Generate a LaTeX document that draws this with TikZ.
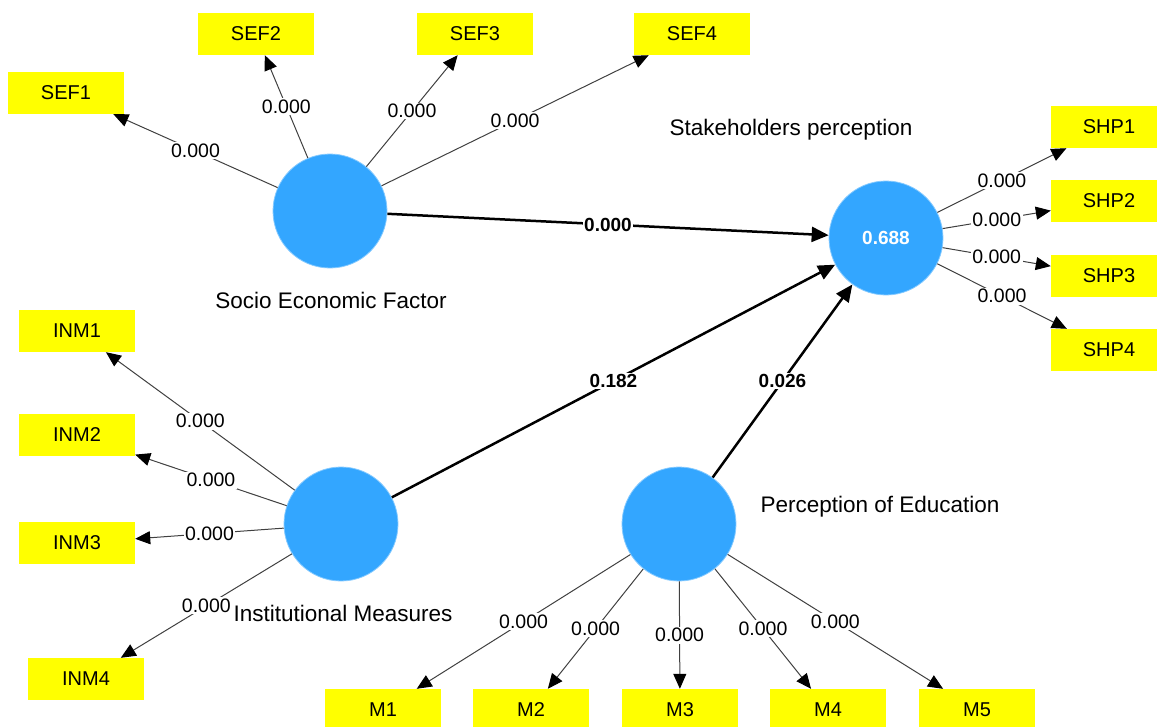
\documentclass[tikz,border=0pt]{standalone}
\usepackage{fontspec}
\setmainfont{Liberation Sans}
\usetikzlibrary{arrows.meta}
\definecolor{latblue}{RGB}{51,166,255}
\definecolor{boxyellow}{RGB}{255,255,0}
\begin{document}
\begin{tikzpicture}[x=1pt,y=-1pt,
  lat/.style={circle, fill=latblue, draw=latblue!60!white, line width=0.8pt, minimum size=114pt, inner sep=0pt},
  ind/.style={rectangle, fill=boxyellow, minimum width=116pt, minimum height=42pt, inner sep=0pt, font=\fontsize{20}{24}\selectfont},
  latlbl/.style={font=\fontsize{22.5}{26}\selectfont, inner sep=0pt, text=black},
  load/.style={draw=black!75, line width=1pt, -{Triangle[length=15pt,width=13pt,color=black]}},
  strpath/.style={draw=black, line width=2.5pt, -{Triangle[length=17pt,width=15pt]}},
  lbl/.style={fill=white, inner sep=1.5pt, font=\fontsize{19.5}{22}\selectfont},
  plbl/.style={fill=white, inner sep=1.5pt, font=\bfseries\fontsize{19}{22}\selectfont}]
\useasboundingbox (0,0) rectangle (1157,726);

% latent variables
\node[lat] (sef) at (330,211) {};
\node[lat] (shp) at (886,238) {\color{white}\bfseries\fontsize{19}{22}\selectfont 0.688};
\node[lat] (inm) at (341,524) {};
\node[lat] (poe) at (679,524) {};

% latent labels
\node[latlbl] (lsef) at (331,300) {Socio Economic Factor};
\node[latlbl] (lshp) at (791,130) {Stakeholders perception};
\node[latlbl] (linm) at (343,613) {Institutional Measures};
\node[latlbl] (lpoe) at (880,507) {Perception of Education};

% indicators
\node[ind] (sef1) at (66,93) {SEF1};
\node[ind] (sef2) at (256,34) {SEF2};
\node[ind] (sef3) at (475,34) {SEF3};
\node[ind] (sef4) at (692,34) {SEF4};
\node[ind] (shp1) at (1109,127) {SHP1};
\node[ind] (shp2) at (1109,201) {SHP2};
\node[ind] (shp3) at (1109,276) {SHP3};
\node[ind] (shp4) at (1109,350) {SHP4};
\node[ind] (inm1) at (77,331) {INM1};
\node[ind] (inm2) at (77,435) {INM2};
\node[ind] (inm3) at (77,543) {INM3};
\node[ind] (inm4) at (86,679) {INM4};
\node[ind] (m1) at (383,710) {M1};
\node[ind] (m2) at (531,710) {M2};
\node[ind] (m3) at (680,710) {M3};
\node[ind] (m4) at (828,710) {M4};
\node[ind] (m5) at (977,710) {M5};

% loadings
\draw[load] (sef) -- node[lbl]{0.000} (sef1);
\draw[load] (sef) -- node[lbl]{0.000} (sef2);
\draw[load] (sef) -- node[lbl]{0.000} (sef3);
\draw[load] (sef) -- node[lbl]{0.000} (sef4);
\draw[load] (shp) -- node[lbl]{0.000} (shp1);
\draw[load] (shp) -- node[lbl]{0.000} (shp2);
\draw[load] (shp) -- node[lbl]{0.000} (shp3);
\draw[load] (shp) -- node[lbl]{0.000} (shp4);
\draw[load] (inm) -- node[lbl]{0.000} (inm1);
\draw[load] (inm) -- node[lbl]{0.000} (inm2);
\draw[load] (inm) -- node[lbl]{0.000} (inm3);
\draw[load] (inm) -- node[lbl]{0.000} (inm4);
\draw[load] (poe) -- node[lbl]{0.000} (m1);
\draw[load] (poe) -- node[lbl]{0.000} (m2);
\draw[load] (poe) -- node[lbl]{0.000} (m3);
\draw[load] (poe) -- node[lbl]{0.000} (m4);
\draw[load] (poe) -- node[lbl]{0.000} (m5);

% structural paths
\draw[strpath] (sef) -- node[plbl]{0.000} (shp);
\draw[strpath] (inm) -- node[plbl]{0.182} (shp);
\draw[strpath] (poe) -- node[plbl]{0.026} (shp);
\end{tikzpicture}
\end{document}
